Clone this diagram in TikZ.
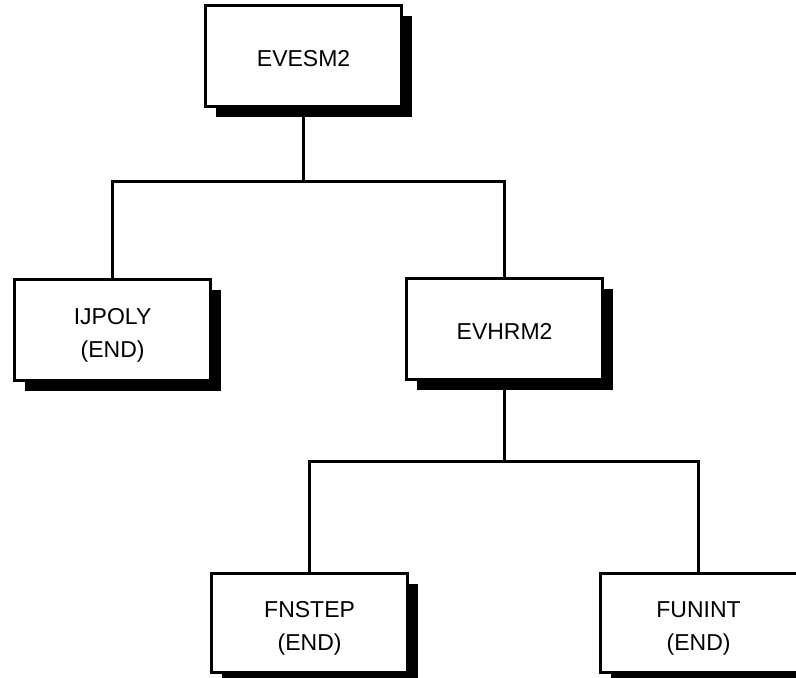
\documentclass[tikz,border=0pt]{standalone}
\usepackage{fontspec}
\setmainfont{Liberation Sans}
\usetikzlibrary{shadows}
% module label, set a little below the box centre
\newcommand{\modlabel}[1]{\raisebox{-4pt}[\height][\depth]{\begin{tabular}{@{}c@{}}#1\end{tabular}}}
\begin{document}
\begin{tikzpicture}[x=1pt,y=-1pt,
  modbox/.style={draw=black, line width=3.2pt, fill=white, rectangle,
    anchor=north west, minimum width=196pt, minimum height=101pt,
    inner sep=0pt,
    font=\fontsize{23}{33}\selectfont,
    drop shadow={shadow xshift=10pt, shadow yshift=-10pt, fill=black, opacity=1}},
  link/.style={line width=3pt, line cap=rect}]
\useasboundingbox (0,0) rectangle (796,678);
\clip (0,0) rectangle (796,678);

% module boxes of the call tree
\node[modbox] (evesm) at (204,4) {\modlabel{EVESM2}};
\node[modbox] (ijpoly) at (13,278) {\modlabel{IJPOLY\\(END)}};
\node[modbox] (evhrm) at (405,277) {\modlabel{EVHRM2}};
\node[modbox, minimum height=99pt] (fnstep) at (210,572) {\modlabel{FNSTEP\\(END)}};
\node[modbox, minimum width=204pt, minimum height=99pt] (funint) at (599,572) {\hspace*{-4pt}\modlabel{FUNINT\\(END)}\hspace*{4pt}};

% junction rows
\coordinate (j1) at (303,181);
\coordinate (j2) at (505,461);

% EVESM2 calls IJPOLY and EVHRM2
\draw[link] (evesm.south) -- (evesm.south |- j1);
\draw[link] (ijpoly.north) |- (evhrm.north |- j1) -- (evhrm.north);

% EVHRM2 calls FNSTEP and FUNINT
\draw[link] (evhrm.south) -- (evhrm.south |- j2);
\draw[link] (fnstep.north) |- ([xshift=-4pt]funint.north |- j2) -- ([xshift=-4pt]funint.north);
\end{tikzpicture}
\end{document}
